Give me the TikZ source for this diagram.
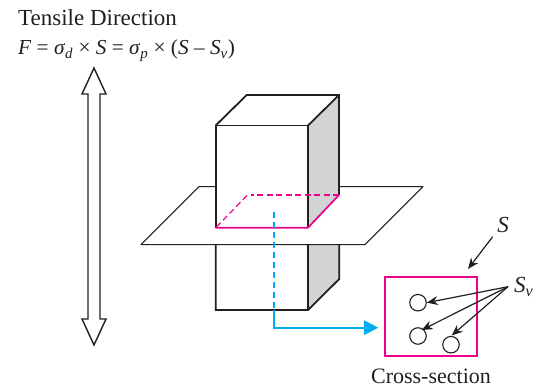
\documentclass[tikz,border=0pt]{standalone}
\usepackage{fontspec}
\setmainfont{Liberation Serif}
\usetikzlibrary{arrows.meta}
\definecolor{ink}{HTML}{231F20}
\definecolor{pinkc}{HTML}{EC008C}
\definecolor{bluec}{HTML}{00AEEF}
\definecolor{greyc}{HTML}{D1D3D4}
\newcommand{\lowered}[1]{\textsubscript{\textit{#1}}}
\tikzset{
  edge/.style={draw=ink,line width=1.8pt,line join=miter},
  thinedge/.style={draw=ink,line width=1.1pt,line join=round},
  pinkline/.style={draw=pinkc,line width=1.7pt},
  pinkdash/.style={draw=pinkc,line width=1.5pt,dash pattern=on 6pt off 3.5pt},
  bluedash/.style={draw=bluec,line width=1.9pt,dash pattern=on 6.5pt off 3.5pt},
  label/.style={inner sep=0pt,text=ink,font=\fontsize{23}{24}\selectfont},
  hole/.style={circle,draw=ink,line width=1.1pt,fill=white,minimum size=16.5pt,inner sep=0pt},
  pointer/.style={draw=ink,line width=1.2pt,-{Stealth[length=11pt,width=9pt]}},
}
\begin{document}
\begin{tikzpicture}[x=1pt,y=-1pt]
\useasboundingbox (0,0) rectangle (536,387);
% tensile double arrow
\draw[thinedge,line width=1.4pt,line join=miter,fill=white] (94,68) -- (106,94) -- (100,94) -- (100,319) -- (106,319) -- (94,345) -- (82,319) -- (88,319) -- (88,94) -- (82,94) -- cycle;
% lower block
\fill[greyc] (308,244) -- (339.3,244) -- (339.3,279) -- (308,310) -- cycle;
\draw[edge] (215.7,244) -- (215.7,310) -- (308,310) -- (339.3,279) -- (339.3,244);
\draw[edge] (308,244) -- (308,310);
% plane
\draw[thinedge,fill=white] (199,186.7) -- (423,186.7) -- (365,244.7) -- (141,244.7) -- cycle;
\draw[edge,line width=1.3pt] (141,244.7) -- (365,244.7);
% upper block
\fill[white] (215.7,125.5) rectangle (308,227.7);
\fill[greyc] (308,125.5) -- (339,95) -- (339,195) -- (308,227.7) -- cycle;
\draw[edge] (215.7,227.7) -- (215.7,125.5) -- (308,125.5) -- (308,227.7);
\draw[edge] (215.7,125.5) -- (246.7,95) -- (339,95) -- (339,195);
\draw[edge] (308,125.5) -- (339,95);
% cut outline
\draw[pinkline] (215.7,227.7) -- (308,227.7) -- (339,195);
\draw[pinkdash] (339,195) -- (251,195);
\draw[pinkdash,line width=1.2pt] (247,195.5) -- (215.7,227.7);
% cross-section
\node[draw=pinkc,line width=1.8pt,minimum width=91.7pt,minimum height=79pt,inner sep=0pt] (section) at (430.8,316.5) {};
\node[hole] (h1) at (418,302.7) {};
\node[hole] (h2) at (418,336) {};
\node[hole] (h3) at (451,344.7) {};
% projection
\coordinate (start) at (273.7,211.7);
\coordinate (knee) at (273.7,327.7);
\coordinate (mid) at (273.7,310);
\coordinate (tip) at (378.3,327.7);
\draw[bluedash] (start) -- (mid);
\draw[draw=bluec,line width=2pt,-{Triangle[length=14.5pt,width=14.5pt]}] (mid) -- (knee) -- (tip);
% labels
\node[label,anchor=base west] (title) at (18,25.5) {Tensile Direction};
\node[label,anchor=base west,font=\fontsize{21.3}{24}\selectfont] (formula) at (18,55) {\textit{F} = \textit{σ}\lowered{d} × \textit{S} = \textit{σ}\lowered{p} × (\textit{S} – \textit{S}\lowered{v})};
\node[label,anchor=center] (Slab) at (503,225) {\textit{S}};
\node[label,anchor=west] (Sv) at (514,287) {\textit{S}\lowered{v}};
\node[label,anchor=center,font=\fontsize{22}{24}\selectfont] (cap) at (431,376) {Cross-section};
\coordinate (fan) at (508,286.7);
\coordinate (s1) at (492.7,236.7);
\coordinate (s2) at (468,269);
\draw[pointer] (s1) -- (s2);
\draw[pointer] (fan) -- (h1.east);
\draw[pointer] (fan) -- (421.7,330);
\draw[pointer] (fan) -- (451.7,335.5);
\end{tikzpicture}
\end{document}
